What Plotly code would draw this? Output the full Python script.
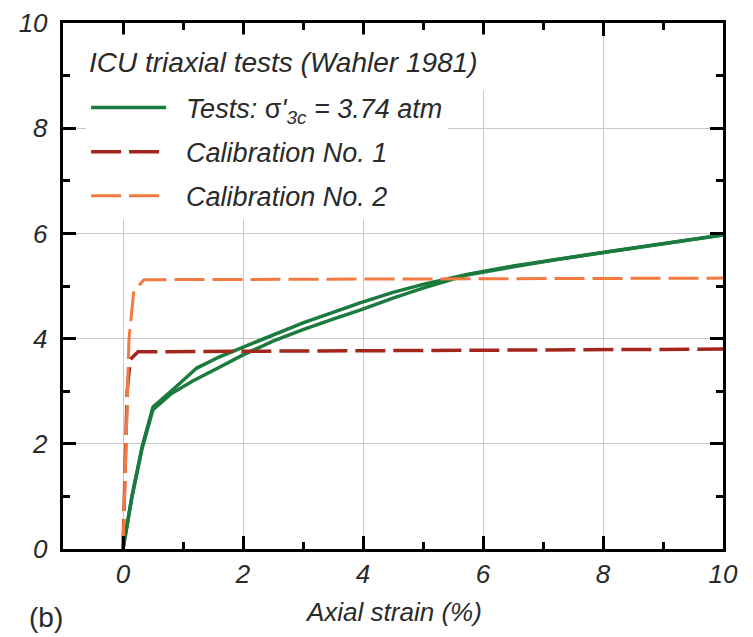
import plotly.graph_objects as go

# Test curves (two nearly overlapping tests)
test1_x = [0, 0.15, 0.32, 0.5, 0.8, 1.23, 1.6, 2.0, 2.5, 3.0, 3.5, 3.95, 4.5, 5.0, 5.73, 6.5, 7.2, 8.07, 9.0, 10.0]
test1_y = [0, 1.0, 1.95, 2.7, 3.0, 3.44, 3.65, 3.84, 4.08, 4.3, 4.5, 4.68, 4.88, 5.03, 5.22, 5.38, 5.5, 5.65, 5.8, 5.97]
test2_x = [0, 0.15, 0.32, 0.5, 0.8, 1.17, 1.6, 2.0, 2.5, 3.0, 3.5, 3.95, 4.5, 5.0, 5.73, 6.5, 7.2, 8.07, 9.0, 10.0]
test2_y = [0, 1.0, 1.92, 2.65, 2.95, 3.2, 3.45, 3.69, 3.95, 4.17, 4.37, 4.54, 4.77, 4.96, 5.21, 5.37, 5.5, 5.65, 5.8, 5.97]
# Calibrations
cal1_x = [0, 0.03, 0.07, 0.12, 0.25, 10.0]
cal1_y = [0, 1.5, 3.0, 3.6, 3.75, 3.8]
cal2_x = [0, 0.05, 0.1, 0.18, 0.35, 10.0]
cal2_y = [0, 2.0, 4.0, 4.9, 5.12, 5.15]

legend_title = "ICU triaxial tests (Wahler 1981)"
x_title = "Axial strain (%)"
names = ["Tests: <span style='font-style:normal'>σ</span>'<sub>3c</sub> = 3.74 atm",
         "Calibration No. 1", "Calibration No. 2"]

GREEN = "#1b7a3e"
DARKRED = "#a3261c"
ORANGE = "#f47a42"
FONT = "Liberation Sans"
TXT = "#2a2a2a"
PAD = "\u00a0\u00a0"

fig = go.Figure()
fig.add_trace(go.Scatter(x=test1_x, y=test1_y, mode="lines",
                         line=dict(color=GREEN, width=3.5),
                         name=PAD + names[0], legendgroup="t"))
fig.add_trace(go.Scatter(x=test2_x, y=test2_y, mode="lines",
                         line=dict(color=GREEN, width=3.5),
                         name="Tests", legendgroup="t", showlegend=False))
fig.add_trace(go.Scatter(x=cal1_x, y=cal1_y, mode="lines",
                         line=dict(color=DARKRED, width=3.5, dash="30px,8px"),
                         name=PAD + names[1], legendgroup="c1"))
fig.add_trace(go.Scatter(x=cal2_x, y=cal2_y, mode="lines",
                         line=dict(color=ORANGE, width=3, dash="30px,8px"),
                         name=PAD + names[2], legendgroup="c2"))

axis_common = dict(
    showline=True, linecolor="black", linewidth=3, mirror="ticks",
    tickmode="linear", tick0=0, dtick=2,
    ticks="inside", ticklen=13, tickwidth=2.5, tickcolor="black",
    showgrid=True, gridcolor="#c8c8c8", gridwidth=1, zeroline=False,
    automargin=False,
    tickfont=dict(family=FONT, size=26, color=TXT, style="italic"),
    minor=dict(ticks="inside", ticklen=7, tickwidth=2.5, tickcolor="black", dtick=1, showgrid=False),
)

fig.update_layout(
    width=745, height=629,
    margin=dict(l=55, r=30, t=15, b=88),
    paper_bgcolor="white", plot_bgcolor="white",
    font=dict(family=FONT, size=25, color=TXT),
    xaxis=dict(range=[-1, 10], **axis_common),
    yaxis=dict(range=[0, 10], ticksuffix="\u00a0", **axis_common),
    legend=dict(x=0.035, y=0.885, xanchor="left", yanchor="top",
                bgcolor="white", borderwidth=0, itemwidth=75,
                font=dict(family=FONT, size=27, style="italic", color=TXT),
                traceorder="grouped", tracegroupgap=6),
    showlegend=True,
)
fig.add_annotation(text=legend_title, xref="paper", yref="paper", x=0.02, y=0.925,
                   xanchor="left", yanchor="middle", showarrow=False,
                   bgcolor="white", borderpad=12,
                   font=dict(family=FONT, size=28, style="italic", color=TXT))
fig.add_annotation(text=x_title, xref="paper", yref="paper", x=0.5015, y=-0.12,
                   xanchor="center", yanchor="middle", showarrow=False,
                   font=dict(family=FONT, size=26, style="italic", color=TXT))
fig.add_annotation(text="(b)", xref="paper", yref="paper", x=-0.055, y=-0.131,
                   xanchor="left", yanchor="middle", showarrow=False,
                   font=dict(family=FONT, size=28, color=TXT))

fig.write_html("out.html")
